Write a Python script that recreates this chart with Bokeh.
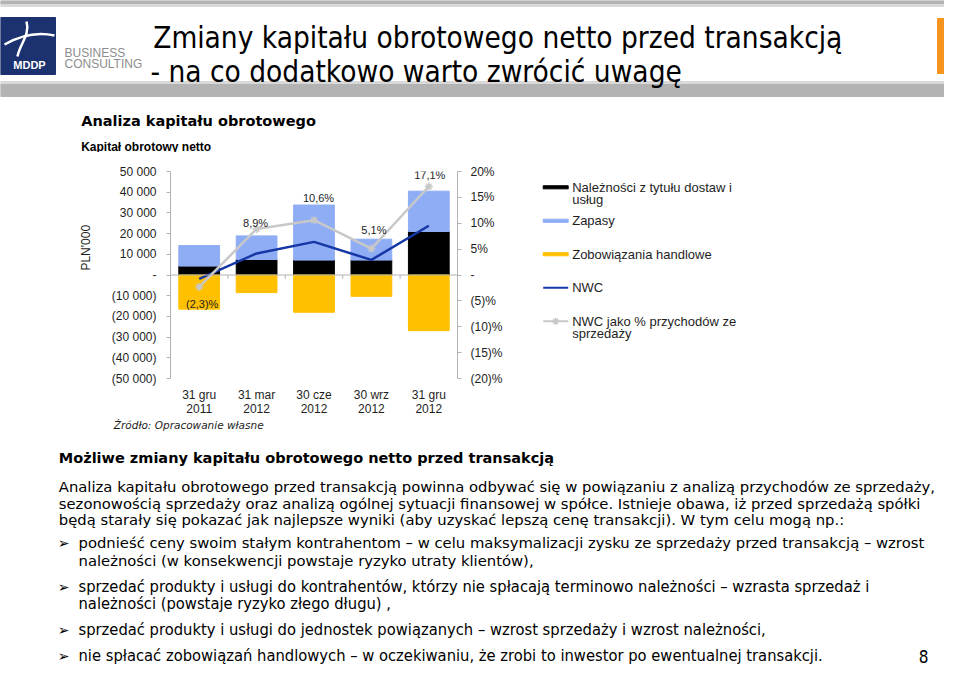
import math
from bokeh.plotting import figure
from bokeh.models import Range1d, LinearAxis, FixedTicker, Span
from bokeh.layouts import column, row
from bokeh.embed import file_html
from bokeh.resources import INLINE
from bokeh.core.properties import value

# ---------------- data ----------------
categories = ["31 gru\n2011", "31 mar\n2012", "30 cze\n2012", "30 wrz\n2012", "31 gru\n2012"]
receivables = [4300, 7500, 7200, 7200, 21000]        # Należności z tytułu dostaw i usług
inventory = [9900, 11400, 26600, 10100, 19500]       # Zapasy
payables = [-16500, -8500, -18000, -10300, -26900]   # Zobowiązania handlowe
nwc = [-1900, 10400, 16000, 7300, 23800]             # NWC
nwc_pct = [-2.3, 8.9, 10.6, 5.1, 17.1]               # NWC jako % przychodów ze sprzedaży

left_ticks = [-50000, -40000, -30000, -20000, -10000, 0, 10000, 20000, 30000, 40000, 50000]
right_ticks = [-20, -15, -10, -5, 0, 5, 10, 15, 20]
y_axis_title = "PLN'000"

legend_labels = [["Należności z tytułu dostaw i", "usług"], ["Zapasy"], ["Zobowiązania handlowe"],
                 ["NWC"], ["NWC jako % przychodów ze", "sprzedaży"]]

title_lines = ["Zmiany kapitału obrotowego netto przed transakcją", "- na co dodatkowo warto zwrócić uwagę"]
section_title = "Analiza kapitału obrotowego"
chart_title = "Kapitał obrotowy netto"
source_note = "Źródło: Opracowanie własne"
body_heading = "Możliwe zmiany kapitału obrotowego netto przed transakcją"
para_lines = [
    "Analiza kapitału obrotowego przed transakcją powinna odbywać się w powiązaniu z analizą przychodów ze sprzedaży,",
    "sezonowością sprzedaży oraz analizą ogólnej sytuacji finansowej w spółce. Istnieje obawa, iż przed sprzedażą spółki",
    "będą starały się pokazać jak najlepsze wyniki (aby uzyskać lepszą cenę transakcji). W tym celu mogą np.:",
]
bullets = [
    ["podnieść ceny swoim stałym kontrahentom – w celu maksymalizacji zysku ze sprzedaży przed transakcją – wzrost",
     "należności (w konsekwencji powstaje ryzyko utraty klientów),"],
    ["sprzedać produkty i usługi do kontrahentów, którzy nie spłacają terminowo należności – wzrasta sprzedaż i",
     "należności (powstaje ryzyko złego długu) ,"],
    ["sprzedać produkty i usługi do jednostek powiązanych – wzrost sprzedaży i wzrost należności,"],
    ["nie spłacać zobowiązań handlowych – w oczekiwaniu, że zrobi to inwestor po ewentualnej transakcji."],
]
page_number = "8"

# ---------------- styles ----------------
C_BLACK = "#000000"
C_BLUE = "#8fadf5"
C_ORANGE = "#ffc000"
C_NWC = "#1538a6"
C_PCT = "#c8c8c8"
C_AXIS = "#b3b3b3"
C_TXT = "#1e1e1e"
ARIAL = "Liberation Sans"
VERDANA = "DejaVu Sans"
TAHOMA = "DejaVu Sans Condensed"

PAGE_W, PAGE_H = 944, 667
HDR_H = 152          # header: page y 0..152
ROW_H = 266          # chart row: page y 152..418
BODY_H = PAGE_H - HDR_H - ROW_H
ROW_Y0 = HDR_H
BODY_Y0 = HDR_H + ROW_H


def fmt_left(v):
    if v == 0:
        return "-"
    s = f"{abs(v):,}".replace(",", " ")
    return f"({s})" if v < 0 else s


def fmt_pct_tick(v):
    if v == 0:
        return "-"
    return f"({abs(v)})%" if v < 0 else f"{v}%"


def fmt_pct_label(v):
    s = f"{abs(v):.1f}".replace(".", ",")
    return f"({s})%" if v < 0 else f"{s}%"


def pixel_fig(w, h):
    f = figure(width=w, height=h, x_range=Range1d(0, w), y_range=Range1d(h, 0),
               output_backend="svg", toolbar_location=None, x_axis_type=None, y_axis_type=None,
               min_border=0, outline_line_color=None)
    f.grid.visible = False
    return f


# ---------------- header ----------------
hdr = pixel_fig(PAGE_W, HDR_H)
hdr.quad(left=0, right=PAGE_W, top=0, bottom=4, color="#b3b3b3")
hdr.quad(left=0, right=PAGE_W, top=4, bottom=6, color="#d9d9d9")
hdr.quad(left=0, right=PAGE_W, top=81, bottom=84, color="#d9d9d9")
hdr.quad(left=0, right=PAGE_W, top=84, bottom=96, color="#b3b3b3")
hdr.quad(left=0, right=55, top=17, bottom=74, color="#1b3170")
hdr.bezier(x0=4, y0=44, x1=54, y1=35, cx0=18, cy0=36, cx1=36, cy1=31, line_color="white", line_width=2.5)
hdr.bezier(x0=26, y0=21, x1=17, y1=56, cx0=30, cy0=34, cx1=19, cy1=44, line_color="white", line_width=2.5)
hdr.text(x=[29], y=[64], text=["MDDP"], text_font=value(ARIAL), text_font_style="bold",
         text_font_size="11px", text_color="white", text_align="center", text_baseline="middle")
hdr.text(x=[64, 64], y=[52, 63], text=["BUSINESS", "CONSULTING"], text_font=value(ARIAL),
         text_font_size="12px", text_color="#8c8c8c", text_baseline="middle")
hdr.quad(left=937, right=PAGE_W, top=18, bottom=73, color="#f7941e")
hdr.text(x=[152.7, 150], y=[37, 71.5], text=title_lines, text_font=value(TAHOMA),
         text_font_size="29.5px", text_color="#000000", text_baseline="alphabetic")
hdr.text(x=[80.7], y=[120.7], text=[section_title], text_font=value(VERDANA), text_font_style="bold",
         text_font_size="14.5px", text_color="#000000", text_baseline="alphabetic")
hdr.text(x=[80.7], y=[146], text=[chart_title], text_font=value(ARIAL), text_font_style="bold",
         text_font_size="12px", text_color="#000000", text_baseline="alphabetic")

# ---------------- y-axis title strip ----------------
LAB_W = 100
lab = pixel_fig(LAB_W, ROW_H)
lab.text(x=[85], y=[250 - ROW_Y0], text=[y_axis_title], angle=math.pi / 2, text_font=value(ARIAL),
         text_font_size="12px", text_color=C_TXT, text_align="center", text_baseline="middle")

# ---------------- chart ----------------
n = len(categories)
xs = list(range(1, n + 1))
FRAME_W, FRAME_H = 287, 208
MB_L, MB_T = 70, 19
CHART_W = 415
chart = figure(width=CHART_W, height=ROW_H, x_range=Range1d(0.5, n + 0.5), y_range=Range1d(-50000, 50000),
               output_backend="svg", toolbar_location=None,
               min_border_left=MB_L, min_border_right=CHART_W - MB_L - FRAME_W,
               min_border_top=MB_T, min_border_bottom=ROW_H - MB_T - FRAME_H,
               outline_line_color=None)
chart.extra_y_ranges = {"pct": Range1d(-20, 20)}
chart.grid.visible = False
ux = n / FRAME_W                       # data units per pixel, x
uy = 100000 / FRAME_H                  # data units per pixel, left y
up = 40 / FRAME_H                      # data units per pixel, right y

xa = chart.xaxis[0]
xa.ticker = FixedTicker(ticks=xs)
xa.major_label_overrides = {x: c for x, c in zip(xs, categories)}
xa.axis_line_color = None
xa.major_tick_line_color = None
xa.major_tick_out = 0
xa.major_tick_in = 0
xa.minor_tick_line_color = None
xa.major_label_standoff = 9
xa.major_label_text_font = ARIAL
xa.major_label_text_font_size = "12px"
xa.major_label_text_line_height = 1.0
xa.major_label_text_color = C_TXT

ya = chart.yaxis[0]
ya.ticker = FixedTicker(ticks=left_ticks)
ya.major_label_overrides = {t: fmt_left(t) for t in left_ticks}
ya.axis_line_color = C_AXIS
ya.major_tick_line_color = C_AXIS
ya.major_tick_out = 4
ya.major_tick_in = 0
ya.minor_tick_line_color = None
ya.major_label_standoff = 10
ya.major_label_text_font = ARIAL
ya.major_label_text_font_size = "12px"
ya.major_label_text_color = C_TXT

ra = LinearAxis(y_range_name="pct", ticker=FixedTicker(ticks=right_ticks),
                major_label_overrides={t: fmt_pct_tick(t) for t in right_ticks})
ra.axis_line_color = C_AXIS
ra.major_tick_line_color = C_AXIS
ra.major_tick_out = 4
ra.major_tick_in = 0
ra.minor_tick_line_color = None
ra.major_label_standoff = 9
ra.major_label_text_font = ARIAL
ra.major_label_text_font_size = "12px"
ra.major_label_text_color = C_TXT
chart.add_layout(ra, "right")

BAR_W = 0.71
stack_top = [r + i for r, i in zip(receivables, inventory)]
chart.vbar(x=xs, bottom=0, top=receivables, width=BAR_W, color=C_BLACK)
chart.vbar(x=xs, bottom=receivables, top=stack_top, width=BAR_W, color=C_BLUE)
chart.vbar(x=xs, bottom=0, top=payables, width=BAR_W, color=C_ORANGE)

chart.add_layout(Span(location=0, dimension="width", line_color=C_AXIS, line_width=1))
bounds = [x + 0.5 for x in xs]
chart.segment(x0=bounds, y0=[0] * n, x1=bounds, y1=[-4 * uy] * n, line_color=C_AXIS, line_width=1)

chart.line(x=xs, y=nwc, line_color=C_NWC, line_width=2.5)
chart.line(x=xs, y=nwc_pct, y_range_name="pct", line_color=C_PCT, line_width=2.5)
chart.scatter(x=xs, y=nwc_pct, y_range_name="pct", marker="asterisk", size=8,
              line_color=C_PCT, line_width=1.5)

# data-label offsets in screen pixels (dx right, dy down)
lab_dx = [3, -1, 4.5, 2.5, 1]
lab_dy = [17, -5.5, -22.5, -18.5, -11.4]
chart.text(x=[x + d * ux for x, d in zip(xs, lab_dx)],
           y=[v - d * up for v, d in zip(nwc_pct, lab_dy)],
           text=[fmt_pct_label(v) for v in nwc_pct], y_range_name="pct",
           text_font=value(ARIAL), text_font_size="11px", text_color=C_TXT,
           text_align="center", text_baseline="middle")

# ---------------- legend ----------------
LEG_X0 = LAB_W + CHART_W
leg = pixel_fig(PAGE_W - LEG_X0, ROW_H)
LEG_TOP, LEG_STEP, LINE_H = 172.3 - ROW_Y0, 43, 16.3
ly = [LEG_TOP + i * LEG_STEP for i in range(len(legend_labels))]
sw_l, sw_r, txt_x = 542.7 - LEG_X0, 567.7 - LEG_X0, 571.7 - LEG_X0
sw_colors = [C_BLACK, C_BLUE, C_ORANGE]
leg.quad(left=sw_l, right=sw_r, top=[y - 2 for y in ly[:3]], bottom=[y + 2 for y in ly[:3]], color=sw_colors)
leg.segment(x0=sw_l, y0=ly[3], x1=sw_r, y1=ly[3], line_color=C_NWC, line_width=2)
leg.segment(x0=sw_l, y0=ly[4], x1=sw_r, y1=ly[4], line_color=C_PCT, line_width=2)
leg.scatter(x=[(sw_l + sw_r) / 2], y=[ly[4]], marker="asterisk", size=7, line_color=C_PCT, line_width=1.5)
tx, ty, tt = [], [], []
for y0, lines in zip(ly, legend_labels):
    for k, t in enumerate(lines):
        tx.append(txt_x)
        ty.append(y0 + k * LINE_H)
        tt.append(t)
leg.text(x=tx, y=ty, text=tt, text_font=value(ARIAL), text_font_size="13px",
         text_color=C_TXT, text_baseline="middle")

# ---------------- body text ----------------
body = pixel_fig(PAGE_W, BODY_H)
B = BODY_Y0
body.text(x=[113.3], y=[424 - B], text=[source_note], text_font=value(VERDANA), text_font_style="italic",
          text_font_size="10.5px", text_color=C_TXT, text_baseline="middle")
body.text(x=[58.3], y=[457 - B], text=[body_heading], text_font=value(VERDANA), text_font_style="bold",
          text_font_size="14.5px", text_color="#000000", text_baseline="middle")
body.text(x=[58.3] * 3, y=[486 - B, 503 - B, 519 - B], text=para_lines, text_font=value(VERDANA),
          text_font_size="14.8px", text_color="#000000", text_baseline="middle")
bullet_y = [[542, 560], [586, 603], [629], [655]]
bullet_fonts = [VERDANA, TAHOMA, TAHOMA, TAHOMA]
bullet_sizes = ["14.8px", "16.4px", "16.4px", "16.4px"]
for lines, ys, fnt, sz in zip(bullets, bullet_y, bullet_fonts, bullet_sizes):
    body.text(x=[63], y=[ys[0] - B], text=["\u27a2"], text_font=value("DejaVu Sans"), text_font_size="14px",
              text_color="#000000", text_align="center", text_baseline="middle")
    body.text(x=[78] * len(lines), y=[y - B for y in ys], text=lines, text_font=value(fnt), text_font_size=sz,
              text_color="#000000", text_baseline="middle")
body.text(x=[923], y=[BODY_H - 11], text=[page_number], text_font=value(TAHOMA), text_font_size="17px",
          text_color="#000000", text_align="center", text_baseline="middle")

layout = column(hdr, row(lab, chart, leg), body)
open("out.html", "w").write(file_html(layout, INLINE))
